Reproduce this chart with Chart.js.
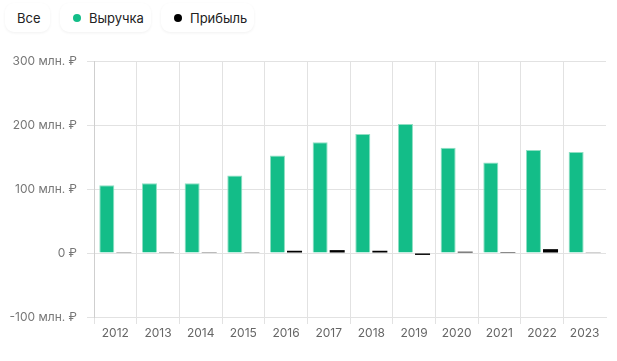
<!DOCTYPE html>
<html>
<head>
<meta charset="utf-8">
<script src="https://cdn.jsdelivr.net/npm/chart.js@4"></script>
<style>
  html, body { margin: 0; padding: 0; background: #fff; }
  body { width: 617px; height: 361px; position: relative; overflow: hidden; font-family: Inter, "Noto Sans", sans-serif; }
  .filters { position: absolute; left: 5px; top: 3px; display: flex; gap: 10px; }
  .pill { height: 29px; padding: 0 12px; display: flex; align-items: center; font-size: 13px; color: #222;
    background: #fff; border-radius: 9px; box-shadow: 0 1px 3px rgba(0, 0, 0, 0.06); box-sizing: border-box; flex-shrink: 0; }
  .dot { width: 8px; height: 8px; border-radius: 50%; margin-right: 8px; flex-shrink: 0; }
  #wrap { position: absolute; left: 0; top: 0; width: 617px; height: 361px; }
</style>
</head>
<body>
<div class="filters">
  <div class="pill" style="width:45px">Все</div>
  <div class="pill" style="width:91px;padding-left:13px"><span class="dot" style="background:#13bd88"></span>Выручка</div>
  <div class="pill" style="width:93px;padding-left:13px"><span class="dot" style="background:#000"></span>Прибыль</div>
</div>
<div id="wrap"><canvas id="chart"></canvas></div>
<script>
const years = ["2012", "2013", "2014", "2015", "2016", "2017", "2018", "2019", "2020", "2021", "2022", "2023"];
const revenue = [106, 109, 109, 121, 152.5, 173, 186, 201.5, 164.5, 141.5, 161, 158];
const profit = [0.4, 0.4, 1.2, 0.4, 3.5, 4.5, 3.5, -3, 2, 1.5, 6, 0.5];
const yTicks = [-100, 0, 100, 200, 300];

const gridColor = "#e2e2e2";

function yLabel(v) {
  return v === 0 ? "0 ₽" : v + " млн. ₽";
}

new Chart(document.getElementById("chart"), {
  type: "bar",
  data: {
    labels: years,
    datasets: [{
      label: "Выручка",
      data: revenue,
      backgroundColor: "#13bd88",
      borderColor: "#8fdfc3",
      borderWidth: 1,
      categoryPercentage: 0.8,
      barPercentage: 0.88,
    }, {
      label: "Прибыль",
      data: profit,
      backgroundColor: "#000",
      borderWidth: 0,
      categoryPercentage: 0.8,
      barPercentage: 0.88,
    }],
  },
  options: {
    responsive: true,
    maintainAspectRatio: false,
    animation: false,
    layout: {padding: {top: 61, right: 11, left: 0, bottom: 0}},
    plugins: {legend: {display: false}, tooltip: {enabled: false}},
    scales: {
      x: {
        grid: {
          // no line after the last year
          color: ctx => ctx.tick ? gridColor : "transparent",
          tickLength: 7,
        },
        border: {color: gridColor},
        ticks: {color: "#666", font: {family: "Inter", size: 12}, padding: 2},
        afterFit: scale => { scale.height = 44; },
      },
      y: {
        min: -100,
        max: 300,
        afterBuildTicks: scale => { scale.ticks = yTicks.map(v => ({value: v})); },
        grid: {color: gridColor, tickLength: 7},
        border: {color: "#cfcfcf"},
        ticks: {
          color: "#777",
          font: {family: "Inter", size: 12},
          padding: 10,
          callback: yLabel,
        },
        afterFit: scale => { scale.width = 94; },
      },
    },
  },
});
</script>
</body>
</html>
